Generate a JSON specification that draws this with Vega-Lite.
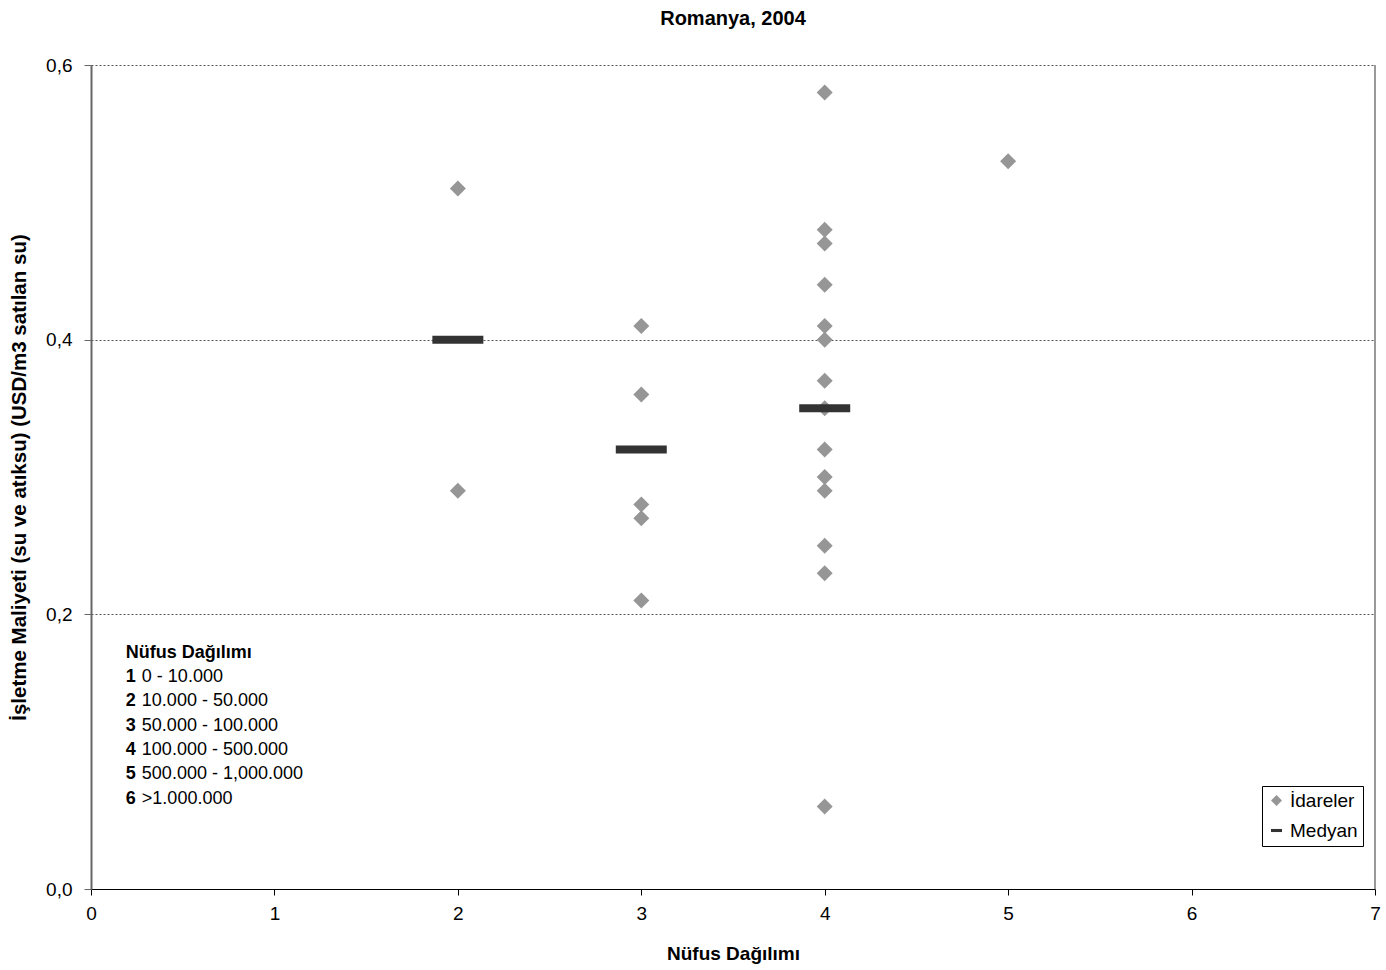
{
  "$schema": "https://vega.github.io/schema/vega-lite/v6.json",
  "autosize": "none",
  "width": 1284,
  "height": 824,
  "padding": {"left": 91, "top": 65, "right": 11, "bottom": 81},
  "background": "white",
  "config": {
    "view": {"stroke": null},
    "font": "Liberation Sans",
    "title": {"font": "Liberation Sans", "fontSize": 20, "fontWeight": "bold", "color": "black"}
  },
  "title": {"text": "Romanya, 2004", "offset": 27, "anchor": "middle"},
  "datasets": {
    "points": [
      {"grup": 2, "maliyet": 0.51, "seri": "İdareler"},
      {"grup": 2, "maliyet": 0.29, "seri": "İdareler"},
      {"grup": 3, "maliyet": 0.41, "seri": "İdareler"},
      {"grup": 3, "maliyet": 0.36, "seri": "İdareler"},
      {"grup": 3, "maliyet": 0.28, "seri": "İdareler"},
      {"grup": 3, "maliyet": 0.27, "seri": "İdareler"},
      {"grup": 3, "maliyet": 0.21, "seri": "İdareler"},
      {"grup": 4, "maliyet": 0.58, "seri": "İdareler"},
      {"grup": 4, "maliyet": 0.48, "seri": "İdareler"},
      {"grup": 4, "maliyet": 0.47, "seri": "İdareler"},
      {"grup": 4, "maliyet": 0.44, "seri": "İdareler"},
      {"grup": 4, "maliyet": 0.41, "seri": "İdareler"},
      {"grup": 4, "maliyet": 0.40, "seri": "İdareler"},
      {"grup": 4, "maliyet": 0.37, "seri": "İdareler"},
      {"grup": 4, "maliyet": 0.35, "seri": "İdareler"},
      {"grup": 4, "maliyet": 0.32, "seri": "İdareler"},
      {"grup": 4, "maliyet": 0.30, "seri": "İdareler"},
      {"grup": 4, "maliyet": 0.29, "seri": "İdareler"},
      {"grup": 4, "maliyet": 0.25, "seri": "İdareler"},
      {"grup": 4, "maliyet": 0.23, "seri": "İdareler"},
      {"grup": 4, "maliyet": 0.06, "seri": "İdareler"},
      {"grup": 5, "maliyet": 0.53, "seri": "İdareler"}
    ],
    "medians": [
      {"grup": 2, "maliyet": 0.40, "seri": "Medyan"},
      {"grup": 3, "maliyet": 0.32, "seri": "Medyan"},
      {"grup": 4, "maliyet": 0.35, "seri": "Medyan"}
    ],
    "notes": [
      {"kalin": ["Nüfus Dağılımı", "1", "2", "3", "4", "5", "6"],
       "normal": ["", "0 - 10.000", "10.000 - 50.000", "50.000 - 100.000", "100.000 - 500.000", "500.000 - 1,000.000", ">1.000.000"]}
    ]
  },
  "layer": [
    {
      "data": {"name": "points"},
      "mark": {"type": "point", "filled": true, "size": 256, "opacity": 1},
      "encoding": {
        "x": {
          "field": "grup", "type": "quantitative",
          "scale": {"domain": [0, 7], "nice": false, "zero": false},
          "axis": {
            "title": "Nüfus Dağılımı", "values": [0, 1, 2, 3, 4, 5, 6, 7], "format": "d", "labelFlush": false,
            "grid": false, "domainColor": "black", "tickColor": "black", "tickSize": 6,
            "labelFont": "Liberation Sans", "labelFontSize": 19, "labelColor": "black", "labelPadding": 9,
            "titleFont": "Liberation Sans", "titleFontSize": 19, "titleFontWeight": "bold", "titleColor": "black",
            "titlePadding": 21
          }
        },
        "y": {
          "field": "maliyet", "type": "quantitative",
          "scale": {"domain": [0, 0.6], "nice": false},
          "axis": {
            "title": "İşletme Maliyeti (su ve atıksu) (USD/m3 satılan su)",
            "values": [0, 0.2, 0.4, 0.6], "labelFlush": false,
            "labelExpr": "replace(format(datum.value, '.1f'), '.', ',')",
            "grid": true, "gridColor": "#555", "gridDash": [2, 2], "gridWidth": 1,
            "domainColor": "#666", "domainWidth": 2, "tickColor": "#666", "tickSize": 7,
            "labelFont": "Liberation Sans", "labelFontSize": 19, "labelColor": "black", "labelPadding": 12,
            "titleFont": "Liberation Sans", "titleFontSize": 20.5, "titleFontWeight": "bold", "titleColor": "black",
            "titlePadding": 16
          }
        },
        "color": {
          "field": "seri", "type": "nominal",
          "scale": {"domain": ["İdareler", "Medyan"], "range": ["#969696", "#333333"]},
          "legend": {
            "title": null, "orient": "none", "legendX": 1171, "legendY": 721,
            "strokeColor": "black", "fillColor": "white", "padding": 5,
            "labelFont": "Liberation Sans", "labelFontSize": 19, "labelColor": "black",
            "symbolSize": 121, "rowPadding": 10, "labelOffset": 4, "symbolStrokeWidth": 0
          }
        },
        "shape": {
          "field": "seri", "type": "nominal",
          "scale": {"domain": ["İdareler", "Medyan"], "range": ["diamond", "M-1,-0.28H1V0.28H-1Z"]},
          "legend": {
            "title": null, "orient": "none", "legendX": 1171, "legendY": 721,
            "strokeColor": "black", "fillColor": "white", "padding": 5,
            "labelFont": "Liberation Sans", "labelFontSize": 19, "labelColor": "black",
            "symbolSize": 121, "rowPadding": 10, "labelOffset": 4, "symbolStrokeWidth": 0
          }
        }
      }
    },
    {
      "data": {"name": "medians"},
      "mark": {"type": "tick", "orient": "horizontal", "size": 51, "thickness": 8, "opacity": 1},
      "encoding": {
        "x": {"field": "grup", "type": "quantitative"},
        "y": {"field": "maliyet", "type": "quantitative"},
        "color": {"field": "seri", "type": "nominal"}
      }
    },
    {
      "data": {"values": [{"kenar": 7}]},
      "mark": {"type": "rule", "color": "#999999", "strokeWidth": 2},
      "encoding": {
        "x": {"field": "kenar", "type": "quantitative"}
      }
    },
    {
      "data": {"name": "notes"},
      "mark": {
        "type": "text", "align": "left", "baseline": "top", "font": "Liberation Sans",
        "fontSize": 18, "fontWeight": "bold", "color": "black", "lineHeight": 24.3
      },
      "encoding": {
        "x": {"datum": 0.19},
        "y": {"datum": 0.1785},
        "text": {"field": "kalin"}
      }
    },
    {
      "data": {"name": "notes"},
      "mark": {
        "type": "text", "align": "left", "baseline": "top", "font": "Liberation Sans",
        "fontSize": 18, "color": "black", "lineHeight": 24.3, "dx": 16
      },
      "encoding": {
        "x": {"datum": 0.19},
        "y": {"datum": 0.1785},
        "text": {"field": "normal"}
      }
    }
  ]
}
